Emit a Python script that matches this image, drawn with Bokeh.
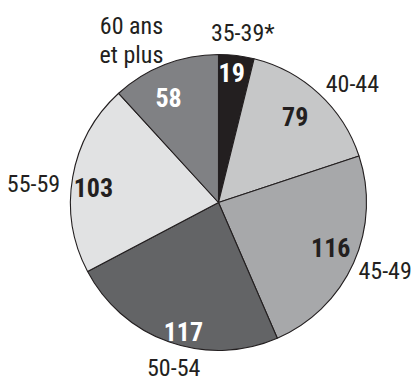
import numpy as np
from bokeh.plotting import figure
from bokeh.models import ColumnDataSource, Range1d
from bokeh.core.properties import value
from bokeh.embed import file_html
from bokeh.resources import INLINE

# Age groups and counts, clockwise from 12 o'clock
groups = ["35-39*", "40-44", "45-49", "50-54", "55-59", "60 ans\net plus"]
counts = [19, 79, 116, 117, 103, 58]
fills = ["#231f20", "#c6c7c8", "#a7a8aa", "#636466", "#e1e2e3", "#808184"]
count_colors = ["white", "#231f20", "#231f20", "white", "#231f20", "white"]

W, H = 413, 382
cx, cy, R = 218, H - 202, 148

vals = np.array(counts, dtype=float)
frac = vals / vals.sum()
ends = np.cumsum(frac) * 2 * np.pi
starts = ends - frac * 2 * np.pi
mids = (starts + ends) / 2

# label placement: radial distance and small angular nudge (degrees)
num_r = [131, 115, 121, 134, 126, 116]
num_nudge = [-1.2, -1.0, -2.2, -4.2, -3.0, -4.3]
grp_r = [171, 179, 180, 171, 186, 184]
grp_nudge = [1.2, 5.6, -1.9, -4.2, -4.0, -7.0]


def polar(r, ang, nudge):
    a = ang + np.radians(nudge)
    return cx + r * np.sin(a), cy + r * np.cos(a)


nx, ny = zip(*[polar(r, a, d) for r, a, d in zip(num_r, mids, num_nudge)])
gx, gy = zip(*[polar(r, a, d) for r, a, d in zip(grp_r, mids, grp_nudge)])

src = ColumnDataSource(dict(
    start=np.pi / 2 - starts, end=np.pi / 2 - ends, fill=fills,
    nx=nx, ny=ny, num=[str(c) for c in counts], ncol=count_colors,
    gx=gx, gy=gy, grp=groups,
))

p = figure(width=W, height=H, x_range=Range1d(0, W), y_range=Range1d(0, H),
           output_backend="svg", toolbar_location=None, min_border=0)
p.axis.visible = False
p.grid.visible = False
p.outline_line_color = None
p.background_fill_color = "white"

p.wedge(x=cx, y=cy, radius=R, start_angle="start", end_angle="end",
        direction="clock", fill_color="fill", line_color="#231f20",
        line_width=1.1, source=src)

font = value("Noto Sans ExtraCondensed, Roboto Condensed, Noto Sans Condensed, "
             "DejaVu Sans Condensed, sans-serif")

p.text(x="nx", y="ny", text="num", text_color="ncol", text_font=font,
       text_font_size="26px", text_font_style="bold", text_align="center",
       text_baseline="middle", source=src)
p.text(x="gx", y="gy", text="grp", text_color="#231f20", text_font=font,
       text_font_size="24px", text_align="center", text_baseline="middle",
       text_line_height=1.05, source=src)

open("out.html", "w").write(file_html(p, INLINE))
